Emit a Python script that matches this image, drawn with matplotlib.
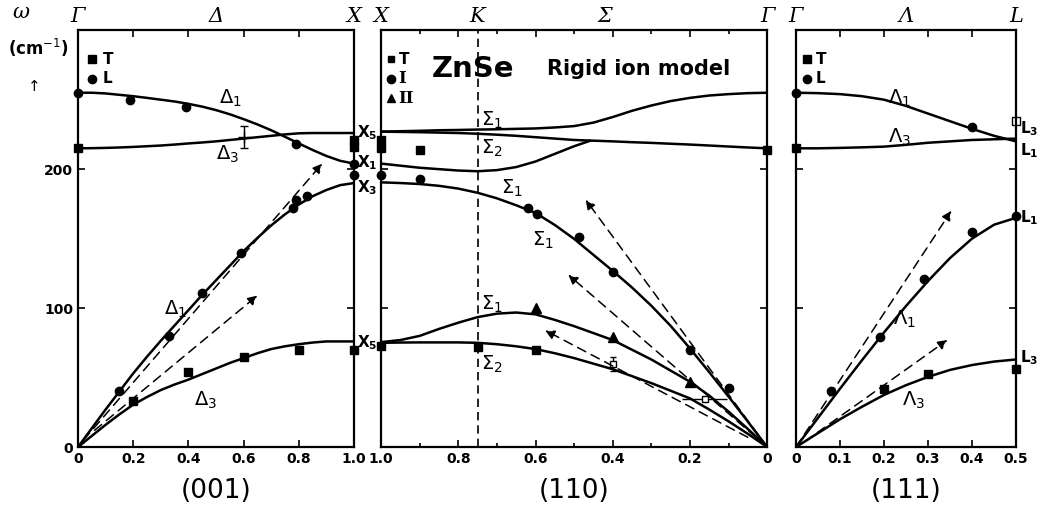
import matplotlib.pyplot as plt
from matplotlib.ticker import MultipleLocator

plt.rcParams['font.family'] = ['DejaVu Sans']

# (001) direction, Gamma -> X
q001 = [0, 0.05, 0.1, 0.15, 0.2, 0.25, 0.3, 0.35, 0.4, 0.45, 0.5,
        0.55, 0.6, 0.65, 0.7, 0.75, 0.8, 0.85, 0.9, 0.95, 1.0]
d1_lo = [255, 255, 254.5, 253.5, 252.5, 251.3, 250, 248.7, 247, 245, 242.5,
         239.5, 236, 232.2, 228, 223.3, 218.5, 213.8, 209.5, 206, 204]
d3_to = [215, 215.1, 215.3, 215.6, 216, 216.5, 217, 217.7, 218.5, 219.2, 220,
         221, 222, 223, 224, 225, 225.8, 226, 226, 226, 226]
d1_la = [0, 13.5, 27, 40, 53, 65, 76.5, 87.5, 98.5, 109.5, 120,
         130.5, 141, 150.5, 159.5, 167.5, 174.5, 180.5, 185, 188.5, 190]
d3_ta = [0, 8, 16, 23.5, 30.5, 36, 41, 45, 48.5, 52.5, 56.5,
         60.5, 64, 67.5, 70.5, 72.5, 74, 75.2, 76, 76, 76]

# measured points (001)
l001_q = [0, 0.19, 0.39, 0.79, 0.15, 0.33, 0.45, 0.59, 0.78, 0.79, 0.83, 1.0, 1.0]
l001_w = [255, 250, 245, 218, 40, 80, 111, 140, 172, 178, 181, 204, 196]
t001_q = [0, 0.2, 0.4, 0.6, 0.8, 1.0, 1.0, 1.0]
t001_w = [215, 33, 54, 65, 70, 70, 221, 216]
err001 = (0.6, 223, 8)

# (110) direction, X -> K -> Gamma
q110 = [1.0, 0.95, 0.9, 0.85, 0.8, 0.75, 0.7, 0.65, 0.6, 0.55, 0.5,
        0.45, 0.4, 0.35, 0.3, 0.25, 0.2, 0.15, 0.1, 0.05, 0]
s1_top = [227, 227.3, 227.6, 228, 228.2, 228.5, 228.7, 229, 229.3, 230, 231,
          233.5, 237.5, 242, 245.8, 249, 251.3, 253, 254, 254.7, 255]
s2_top = [227, 226.8, 226.6, 226.3, 226, 225.5, 224.8, 224, 223, 222, 221,
          220.5, 220, 219.4, 218.9, 218.3, 217.7, 217, 216.3, 215.6, 215]
s1_la = [190.5, 190, 189.3, 188, 186, 183, 179, 174, 168.5, 159.8, 149.8,
         138.3, 126.8, 114.8, 101.7, 87.2, 71, 53.9, 36.3, 18.3, 0]
s1_ta = [75.5, 77, 80, 85, 89.5, 93.5, 96, 96.8, 95.5, 91.5, 87,
         82, 77, 70, 63, 55, 47, 37, 25.5, 13, 0]
s2_ta = [75, 75.2, 75.3, 75.3, 75.3, 75, 74, 72.5, 70.5, 67.5, 64,
         60, 56, 51, 46, 40.5, 35, 27, 18.5, 9.5, 0]
q110_mid = [1.0, 0.95, 0.9, 0.85, 0.8, 0.75, 0.7, 0.65, 0.6, 0.55, 0.5, 0.46]
s1_mid = [204, 202.5, 201, 200, 199, 198.5, 199.3, 201.5, 205.5, 211, 216.5, 220.3]

t110_q = [1.0, 1.0, 0.9, 0, 1.0, 0.75, 0.6]
t110_w = [221, 215, 214, 214, 73, 72, 70]
i110_q = [1.0, 0.9, 0.62, 0.595, 0.487, 0.4, 0.2, 0.1]
i110_w = [196, 193, 172, 168, 151, 126, 70, 42.5]
ii110_q = [0.6, 0.4, 0.2]
ii110_w = [100, 79, 47]

# (111) direction, Gamma -> L
q111 = [0, 0.05, 0.1, 0.15, 0.2, 0.25, 0.3, 0.35, 0.4, 0.45, 0.5]
l1_lo = [255, 254.7, 254, 252.5, 250, 245.5, 240, 234.5, 229, 224, 220]
l3_to = [215, 215, 215.3, 215.7, 216.2, 217.5, 219, 220, 221, 221.5, 222]
l1_la = [0, 21, 42, 62.5, 82.5, 101.5, 119.5, 136, 150, 160, 165]
l3_ta = [0, 10, 20, 29, 37.5, 44.5, 50.5, 55.5, 59, 61.5, 63]

l111_q = [0, 0.4, 0.08, 0.19, 0.29, 0.4, 0.5]
l111_w = [255, 230, 40, 79, 121, 155, 166]
t111_q = [0, 0.2, 0.3, 0.5]
t111_w = [215, 42, 52.5, 56]

fig = plt.figure(figsize=(10.47, 5.21), dpi=100)
bottom, height = 0.142, 0.80
ax1 = fig.add_axes([0.0745, bottom, 0.2636, height])
ax2 = fig.add_axes([0.364, bottom, 0.3687, height])
ax3 = fig.add_axes([0.7603, bottom, 0.2101, height])

lw = 1.8
ms = 6
tickfont = dict(fontsize=10, fontweight='bold')


def frame(ax, xlim, major, minor):
    ax.set_xlim(*xlim)
    ax.set_ylim(0, 300)
    ax.xaxis.set_major_locator(MultipleLocator(major))
    ax.xaxis.set_minor_locator(MultipleLocator(minor))
    ax.yaxis.set_major_locator(MultipleLocator(100))
    ax.tick_params(which='both', direction='in', top=True, right=True,
                   length=5, width=1.2)
    ax.tick_params(which='minor', length=3)
    for s in ax.spines.values():
        s.set_linewidth(1.6)


def arrow(ax, x0, y0, x1, y1):
    ax.annotate('', xy=(x1, y1), xytext=(x0, y0),
                arrowprops=dict(arrowstyle='-|>', linestyle=(0, (6, 4)),
                                lw=1.1, color='black', mutation_scale=14,
                                shrinkA=0, shrinkB=0))


# ---- (001) ----
for y in (d1_lo, d3_to, d1_la, d3_ta):
    ax1.plot(q001, y, 'k-', lw=lw)
ax1.plot(l001_q, l001_w, 'ko', ms=ms, clip_on=False)
ax1.plot(t001_q, t001_w, 'ks', ms=ms, clip_on=False)
ax1.errorbar([err001[0]], [err001[1]], yerr=[err001[2]], fmt='k+', ms=8,
             capsize=3, lw=1)
arrow(ax1, 0.02, 5, 0.885, 204)
arrow(ax1, 0.06, 12, 0.65, 109)
frame(ax1, (0, 1.0), 0.2, 0.2)
ax1.set_xticks([0, 0.2, 0.4, 0.6, 0.8, 1.0])
ax1.set_xticklabels(['0', '0.2', '0.4', '0.6', '0.8', '1.0'], **tickfont)
ax1.set_yticks([0, 100, 200])
ax1.set_yticklabels(['0', '100', '200'], **tickfont)

ax1.text(0.51, 247, r'$\Delta_1$', fontsize=14)
ax1.text(0.5, 207, r'$\Delta_3$', fontsize=14)
ax1.text(0.31, 95, r'$\Delta_1$', fontsize=14)
ax1.text(0.42, 30, r'$\Delta_3$', fontsize=14)
for w, lab in ((226, r'$\mathbf{X_5}$'), (205, r'$\mathbf{X_1}$'),
               (187, r'$\mathbf{X_3}$'), (75, r'$\mathbf{X_5}$')):
    ax1.text(1.01, w, lab, fontsize=11, va='center')
ax1.plot([0.05], [279], 'ks', ms=6)
ax1.text(0.09, 279, 'T', fontsize=11, fontweight='bold', va='center')
ax1.plot([0.05], [265], 'ko', ms=6)
ax1.text(0.09, 265, 'L', fontsize=11, fontweight='bold', va='center')

# ---- (110) ----
ax2.axvline(0.75, color='k', ls=(0, (5, 3)), lw=1.2)
for y in (s1_top, s2_top, s1_la, s1_ta, s2_ta):
    ax2.plot(q110, y, 'k-', lw=lw)
ax2.plot(q110_mid, s1_mid, 'k-', lw=lw)
ax2.plot(t110_q, t110_w, 'ks', ms=ms, clip_on=False)
ax2.plot(i110_q, i110_w, 'ko', ms=ms, clip_on=False)
ax2.plot(ii110_q, ii110_w, 'k^', ms=ms + 1, clip_on=False)
ax2.errorbar([0.4], [60], yerr=[5], fmt='ks', mfc='white', ms=5, capsize=2,
             lw=1)
ax2.errorbar([0.16], [34.5], xerr=[[0.055], [0.06]], fmt='ks', mfc='white',
             ms=5, lw=1)
arrow(ax2, 0.0, 0, 0.47, 178)
arrow(ax2, 0.0, 0, 0.515, 124)
arrow(ax2, 0.05, 7, 0.575, 84)
frame(ax2, (1.0, 0), 0.2, 0.1)
ax2.set_xticks([1.0, 0.8, 0.6, 0.4, 0.2, 0])
ax2.set_xticklabels(['1.0', '0.8', '0.6', '0.4', '0.2', '0'], **tickfont)
ax2.set_yticks([0, 100, 200])
ax2.set_yticklabels([])

ax2.text(0.74, 231, r'$\Sigma_1$', fontsize=14)
ax2.text(0.74, 211, r'$\Sigma_2$', fontsize=14)
ax2.text(0.69, 182, r'$\Sigma_1$', fontsize=14)
ax2.text(0.61, 145, r'$\Sigma_1$', fontsize=14)
ax2.text(0.74, 99, r'$\Sigma_1$', fontsize=14)
ax2.text(0.74, 56, r'$\Sigma_2$', fontsize=14)
ax2.plot([0.975], [279], 'ks', ms=5)
ax2.text(0.955, 279, 'T', fontsize=11, fontweight='bold', va='center')
ax2.plot([0.975], [265], 'ko', ms=6)
ax2.text(0.955, 265, 'I', fontsize=12, fontweight='bold', va='center',
         family='DejaVu Serif')
ax2.plot([0.975], [251], 'k^', ms=6)
ax2.text(0.955, 251, 'II', fontsize=12, fontweight='bold', va='center',
         family='DejaVu Serif')
ax2.text(0.87, 272, 'ZnSe', fontsize=21, fontweight='bold', va='center')
ax2.text(0.57, 272, 'Rigid ion model', fontsize=15, fontweight='bold',
         va='center')

# ---- (111) ----
for y in (l1_lo, l3_to, l1_la, l3_ta):
    ax3.plot(q111, y, 'k-', lw=lw)
ax3.plot(l111_q, l111_w, 'ko', ms=ms, clip_on=False)
ax3.plot(t111_q, t111_w, 'ks', ms=ms, clip_on=False)
ax3.plot([0.5], [235], 's', mfc='white', mec='k', ms=6, clip_on=False)
arrow(ax3, 0.0, 0, 0.353, 170)
arrow(ax3, 0.02, 4, 0.344, 77)
frame(ax3, (0, 0.5), 0.1, 0.1)
ax3.set_xticks([0, 0.1, 0.2, 0.3, 0.4, 0.5])
ax3.set_xticklabels(['0', '0.1', '0.2', '0.3', '0.4', '0.5'], **tickfont)
ax3.set_yticks([0, 100, 200])
ax3.set_yticklabels([])

ax3.text(0.21, 247, r'$\Lambda_1$', fontsize=14, family='DejaVu Serif')
ax3.text(0.21, 219, r'$\Lambda_3$', fontsize=14, family='DejaVu Serif')
ax3.text(0.22, 88, r'$\Lambda_1$', fontsize=14, family='DejaVu Serif')
ax3.text(0.24, 30, r'$\Lambda_3$', fontsize=14, family='DejaVu Serif')
for w, lab in ((229, r'$\mathbf{L_3}$'), (213, r'$\mathbf{L_1}$'),
               (165, r'$\mathbf{L_1}$'), (64, r'$\mathbf{L_3}$')):
    ax3.text(0.508, w, lab, fontsize=11, va='center')
ax3.plot([0.025], [279], 'ks', ms=6)
ax3.text(0.045, 279, 'T', fontsize=11, fontweight='bold', va='center')
ax3.plot([0.025], [265], 'ko', ms=6)
ax3.text(0.045, 265, 'L', fontsize=11, fontweight='bold', va='center')

# symmetry point labels on top
sym = dict(fontsize=15, style='italic', family='DejaVu Serif',
           ha='center', va='bottom')
for ax, labels in ((ax1, ((0, '\u0393'), (0.5, '\u0394'), (1.0, 'X'))),
                   (ax2, ((1.0, 'X'), (0.75, 'K'), (0.42, '\u03a3'),
                          (0, '\u0393'))),
                   (ax3, ((0, '\u0393'), (0.25, '\u039b'), (0.5, 'L')))):
    for x, lab in labels:
        ax.text(x, 303, lab, **sym)

fig.text(0.012, 0.965, '\u03c9', fontsize=15, style='italic',
         family='DejaVu Serif')
fig.text(0.008, 0.895, '(cm$^{-1}$)', fontsize=12, fontweight='bold')
fig.text(0.033, 0.825, '\u2191', fontsize=11, ha='center')

for ax, lab in ((ax1, '(001)'), (ax2, '(110)'), (ax3, '(111)')):
    ax.text(0.5, -0.105, lab, transform=ax.transAxes, fontsize=19,
            ha='center', va='center')

fig.savefig('out.png', dpi=100)
